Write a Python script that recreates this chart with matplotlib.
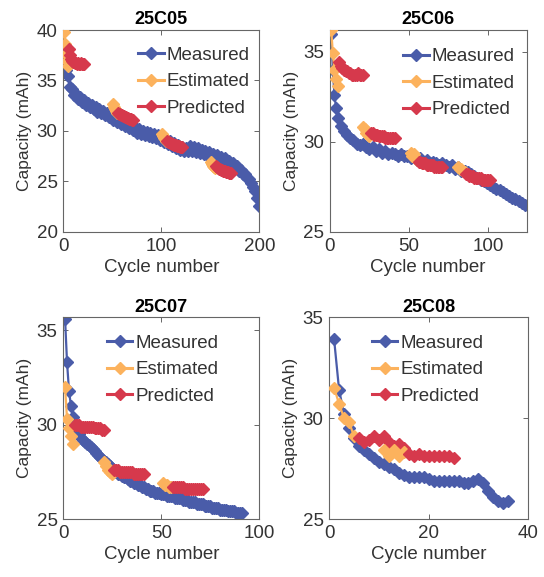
#!/usr/bin/env python
"""Capacity fade: measured vs estimated vs predicted, cells 25C05-25C08."""

import numpy as np
import matplotlib
matplotlib.use("Agg")
import matplotlib.pyplot as plt
from matplotlib.lines import Line2D

# ── style ───────────────────────────────────────────────────────────────────
C_MEAS = "#4a5ca9"
C_EST  = "#fcb25d"
C_PRED = "#d6394c"
TXT    = "#333333"
FRAME  = "#666666"

plt.rcParams["font.family"] = ["Liberation Sans", "DejaVu Sans"]
plt.rcParams["font.size"] = 13

# ── 25C05 ───────────────────────────────────────────────────────────────────
c05_cycles = np.arange(1, 200, 2)
c05_meas = [37.2, 36.0, 35.4, 34.4, 34.2, 33.6, 33.7, 33.2, 33.4, 32.9,
            33.1, 32.6, 32.8, 32.4, 32.6, 32.2, 32.4, 31.9, 32.2, 31.8,
            32.0, 31.6, 31.8, 31.4, 31.6, 31.1, 31.4, 30.9, 31.2, 30.7,
            30.9, 30.5, 30.8, 30.3, 30.6, 30.1, 30.4, 29.8, 30.2, 29.7,
            30.0, 29.6, 29.9, 29.5, 29.8, 29.4, 29.7, 29.3, 29.6, 29.1,
            29.4, 28.9, 29.2, 28.7, 29.0, 28.5, 28.8, 28.3, 28.6, 28.1,
            28.4, 28.0, 28.3, 28.0, 28.5, 28.0, 28.4, 27.9, 28.3, 27.8,
            28.1, 27.7, 28.0, 27.6, 27.9, 27.4, 27.7, 27.4, 27.6, 27.2,
            27.4, 27.1, 27.3, 26.8, 27.0, 26.6, 26.8, 26.3, 26.5, 26.0,
            26.1, 25.7, 25.7, 25.3, 25.2, 24.8, 24.5, 24.1, 23.4, 22.6]
c05_est_start  = [1, 51, 101, 151]
c05_est = [[39.8, 38.6, 37.6, 36.9, 36.4],
           [32.7, 32.4, 32.2, 32.0, 31.8],
           [29.7, 29.5, 29.3, 29.2, 29.0],
           [26.9, 26.7, 26.5, 26.4, 26.3]]
c05_pred_start = [6, 56, 106, 156]
c05_pred = [[38.1, 37.5, 37.1, 36.9, 36.8, 36.8, 36.7, 36.7,
             36.6, 36.7, 36.6, 36.6, 36.7, 36.6, 36.6, 36.6],
            [31.8, 31.7, 31.7, 31.6, 31.6, 31.5, 31.5, 31.4,
             31.4, 31.3, 31.3, 31.2, 31.2, 31.2, 31.1, 31.1],
            [29.0, 28.9, 28.9, 28.8, 28.8, 28.7, 28.7, 28.6,
             28.6, 28.6, 28.5, 28.5, 28.5, 28.4, 28.4, 28.4],
            [26.5, 26.4, 26.3, 26.2, 26.2, 26.1, 26.1, 26.0,
             26.0, 26.0, 25.9, 25.9, 25.9, 25.8, 25.8, 25.8]]

# ── 25C06 ───────────────────────────────────────────────────────────────────
c06_cycles = np.r_[1:6, 7:124:2]
c06_meas = [36.0, 34.0, 32.6, 31.9, 31.3,
            30.9, 30.6, 30.4, 30.2, 30.1, 29.9, 29.8, 29.9, 29.7, 29.6,
            29.7, 29.5, 29.6, 29.4, 29.5, 29.3, 29.4, 29.3, 29.2, 29.3,
            29.2, 29.2, 29.1, 29.2, 29.0, 29.1, 28.9, 29.0, 28.8, 28.9,
            28.8, 28.7, 28.8, 28.7, 28.6, 28.7, 28.5, 28.6, 28.4, 28.4,
            28.3, 28.2, 28.1, 28.0, 27.9, 27.8, 27.7, 27.6, 27.5, 27.4,
            27.3, 27.2, 27.1, 27.0, 26.9, 26.8, 26.7, 26.6, 26.5]
c06_est_start  = [1, 21, 51, 81]
c06_est = [[36.2, 34.9, 34.0, 33.5, 33.1],
           [30.8, 30.7, 30.5, 30.4, 30.3],
           [29.4, 29.2, 29.3, 29.1, 29.0],
           [28.6, 28.5, 28.5, 28.4, 28.3]]
c06_pred_start = [6, 26, 56, 86]
c06_pred = [[34.4, 34.2, 34.1, 34.0, 33.9, 33.9, 33.8, 33.8,
             33.7, 33.7, 33.7, 33.7, 33.8, 33.7, 33.7, 33.7],
            [30.5, 30.5, 30.4, 30.4, 30.4, 30.3, 30.3, 30.3,
             30.3, 30.2, 30.2, 30.2, 30.2, 30.2, 30.2, 30.2],
            [28.9, 28.9, 28.8, 28.8, 28.8, 28.7, 28.7, 28.7,
             28.7, 28.7, 28.6, 28.6, 28.6, 28.6, 28.6, 28.6],
            [28.2, 28.2, 28.1, 28.1, 28.1, 28.0, 28.0, 28.0,
             28.0, 28.0, 27.9, 27.9, 27.9, 27.9, 27.9, 27.9]]

# ── 25C07 ───────────────────────────────────────────────────────────────────
c07_cycles = np.arange(1, 92)
c07_meas = [35.6, 33.3, 31.8, 31.0, 30.4, 30.0, 29.7, 29.5, 29.3, 29.2,
            29.1, 29.0, 28.9, 28.8, 28.7, 28.6, 28.5, 28.4, 28.3, 28.2,
            28.1, 28.0, 27.9, 27.8, 27.7, 27.6, 27.5, 27.4, 27.4, 27.3,
            27.2, 27.2, 27.1, 27.0, 27.0, 26.9, 26.9, 26.8, 26.8, 26.7,
            26.7, 26.6, 26.6, 26.5, 26.5, 26.5, 26.4, 26.4, 26.4, 26.3,
            26.3, 26.3, 26.2, 26.2, 26.2, 26.2, 26.1, 26.1, 26.1, 26.1,
            26.0, 26.0, 26.0, 25.9, 25.9, 25.9, 25.9, 25.8, 25.8, 25.8,
            25.8, 25.7, 25.7, 25.7, 25.7, 25.6, 25.6, 25.6, 25.6, 25.5,
            25.5, 25.5, 25.5, 25.4, 25.4, 25.4, 25.4, 25.3, 25.3, 25.3,
            25.3]
c07_est_start  = [1, 21, 51]
c07_est = [[32.0, 30.3, 29.8, 29.4, 29.0],
           [28.0, 27.8, 27.6, 27.5, 27.4],
           [26.9, 26.8, 26.8, 26.7, 26.7]]
c07_pred_start = [6, 26, 56]
c07_pred = [[30.0, 30.0, 30.0, 29.9, 29.9, 29.9, 29.9, 29.9,
             29.9, 29.9, 29.8, 29.8, 29.8, 29.8, 29.7, 29.7],
            [27.6, 27.6, 27.6, 27.5, 27.5, 27.5, 27.5, 27.5,
             27.5, 27.5, 27.4, 27.4, 27.4, 27.4, 27.4, 27.4],
            [26.7, 26.7, 26.7, 26.7, 26.7, 26.7, 26.6, 26.6,
             26.6, 26.6, 26.6, 26.6, 26.6, 26.6, 26.6, 26.6]]

# ── 25C08 ───────────────────────────────────────────────────────────────────
c08_cycles = np.arange(1, 37)
c08_meas = [33.9, 31.4, 30.2, 29.5, 29.0, 28.6, 28.4, 28.2, 28.0, 27.8,
            27.7, 27.6, 27.5, 27.3, 27.2, 27.1, 27.1, 27.1, 27.1, 27.0,
            26.9, 26.9, 26.9, 26.9, 26.9, 26.9, 26.8, 26.8, 26.9, 27.0,
            26.8, 26.4, 26.1, 25.9, 25.8, 25.9]
c08_est_start  = [1, 11]
c08_est = [[31.5, 30.7, 30.0, 29.8, 29.1],
           [28.4, 28.1, 28.4, 28.1, 28.3]]
c08_pred_start = [6, 16]
c08_pred = [[29.0, 28.8, 28.9, 29.1, 28.9, 29.1, 28.8, 28.6, 28.7, 28.5],
            [28.2, 28.1, 28.2, 28.1, 28.1, 28.1, 28.1, 28.1, 28.1, 28.0]]

PANELS = [
    dict(title="25C05", cyc=c05_cycles, meas=c05_meas,
         est_start=c05_est_start, est=c05_est,
         pred_start=c05_pred_start, pred=c05_pred,
         xlim=(0, 200), xticks=[0, 100, 200],
         ylim=(20, 40), yticks=[20, 25, 30, 35, 40],
         rect=[0.116, 0.598, 0.361, 0.350], leg=(0.383, 0.918)),
    dict(title="25C06", cyc=c06_cycles, meas=c06_meas,
         est_start=c06_est_start, est=c06_est,
         pred_start=c06_pred_start, pred=c06_pred,
         xlim=(0, 124), xticks=[0, 50, 100],
         ylim=(25, 36.2), yticks=[25, 30, 35],
         rect=[0.606, 0.598, 0.362, 0.350], leg=(0.374, 0.910)),
    dict(title="25C07", cyc=c07_cycles, meas=c07_meas,
         est_start=c07_est_start, est=c07_est,
         pred_start=c07_pred_start, pred=c07_pred,
         xlim=(0, 100), xticks=[0, 50, 100],
         ylim=(25, 35.7), yticks=[25, 30, 35],
         rect=[0.116, 0.1005, 0.361, 0.350], leg=(0.224, 0.912)),
    dict(title="25C08", cyc=c08_cycles, meas=c08_meas,
         est_start=c08_est_start, est=c08_est,
         pred_start=c08_pred_start, pred=c08_pred,
         xlim=(0, 40), xticks=[0, 20, 40],
         ylim=(25, 35), yticks=[25, 30, 35],
         rect=[0.605, 0.1005, 0.366, 0.350], leg=(0.216, 0.912)),
]

MS, LW = 6, 1.6


def plot_panel(fig, p):
    ax = fig.add_axes(p["rect"])
    ax.plot(p["cyc"], p["meas"], color=C_MEAS, marker="D", ms=MS,
            lw=LW, zorder=2)
    for k in range(len(p["est"])):
        e = p["est"][k]
        ax.plot(np.arange(p["est_start"][k], p["est_start"][k] + len(e)), e,
                color=C_EST, marker="D", ms=MS, lw=LW, zorder=3)
        r = p["pred"][k]
        ax.plot(np.arange(p["pred_start"][k], p["pred_start"][k] + len(r)), r,
                color=C_PRED, marker="D", ms=MS, lw=LW, zorder=3)

    ax.set_xlim(*p["xlim"]); ax.set_ylim(*p["ylim"])
    ax.set_xticks(p["xticks"]); ax.set_yticks(p["yticks"])
    ax.tick_params(direction="in", length=3.5, width=0.7, colors=FRAME,
                   labelcolor=TXT, top=True, right=True, labelsize=13.5, pad=4)
    for s in ax.spines.values():
        s.set_color(FRAME); s.set_linewidth(0.8)
    ax.set_xlabel("Cycle number", color=TXT, fontsize=13.5, labelpad=3)
    ax.set_ylabel("Capacity (mAh)", color=TXT, fontsize=12.5, labelpad=3)
    ax.set_title(p["title"], fontsize=13, fontweight="bold", color="black", pad=4)

    handles = [Line2D([], [], color=c, marker="D", ms=6.5, lw=2.2)
               for c in (C_MEAS, C_EST, C_PRED)]
    ax.legend(handles, ["Measured", "Estimated", "Predicted"],
              loc="upper left", bbox_to_anchor=p["leg"], frameon=False,
              fontsize=13.5, handlelength=1.35, handletextpad=0.15,
              labelspacing=0.5, borderpad=0, borderaxespad=0,
              labelcolor=TXT)
    return ax


def main():
    fig = plt.figure(figsize=(5.44, 5.77), dpi=100)
    for p in PANELS:
        plot_panel(fig, p)
    fig.savefig("out.png", dpi=100, facecolor="white")
    plt.close(fig)


if __name__ == "__main__":
    main()
